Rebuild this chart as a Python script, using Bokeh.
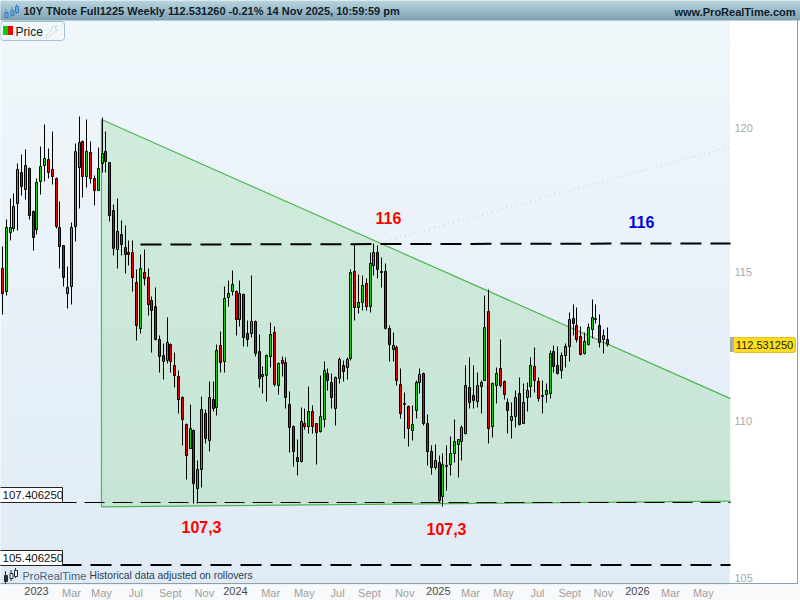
import numpy as np
from bokeh.plotting import figure
from bokeh.embed import file_html
from bokeh.resources import INLINE
from bokeh.models import (Range1d, BoxAnnotation, Label, PolyAnnotation, FixedTicker, LinearAxis)

# ---------- data (weekly candles) ----------
OPEN = [115.11,114.31,116.34,116.47,117.35,118.43,117.83,118.57,117.07,116.45,118.11,118.67,118.89,118.54,118.22,116.52,115.88,114.25,114.48,116.54,
        118.60,119.53,118.28,119.14,118.22,117.82,118.75,119.17,118.77,117.10,115.75,116.28,115.83,115.65,115.66,114.62,113.07,114.96,114.79,114.01,
        113.81,112.70,112.16,112.00,112.55,111.83,111.47,110.78,109.89,109.13,109.70,107.82,108.46,110.25,109.37,110.71,110.45,112.50,111.97,114.13,
        114.31,114.33,113.37,114.21,112.90,112.92,113.31,112.30,111.47,111.50,112.15,112.94,111.17,112.00,111.93,110.55,109.84,108.82,108.71,109.92,
        109.85,110.32,109.92,109.68,110.08,111.57,111.27,110.41,111.41,111.83,111.77,112.06,115.00,113.77,113.94,114.60,113.81,115.22,115.67,115.02,
        115.00,113.07,112.37,112.43,111.21,110.59,110.48,109.70,110.35,111.27,111.57,109.95,109.04,108.52,108.68,107.57,108.57,108.59,108.97,109.26,
        109.36,109.62,111.11,110.84,110.67,111.14,111.36,113.64,109.85,111.19,111.74,111.30,110.61,110.04,110.15,110.91,109.94,110.78,111.14,111.80,
        111.30,110.85,110.88,110.91,112.30,111.83,111.67,112.16,112.48,113.41,113.17,112.81,112.25,112.53,113.06,113.43,113.17,112.72,112.70]
HIGH = [115.86,116.79,117.54,117.69,118.75,119.07,119.24,118.60,117.10,118.22,119.36,120.14,119.29,119.89,118.25,117.42,115.91,115.19,116.70,119.46,
        120.42,119.57,120.32,119.52,118.34,119.33,120.38,119.89,118.80,117.32,117.54,116.77,116.57,116.08,116.08,115.06,115.60,115.77,115.10,114.16,
        114.45,112.85,112.57,113.45,112.57,112.27,111.67,110.82,109.95,110.56,109.73,108.73,110.82,110.39,111.32,111.32,112.55,112.98,114.50,114.70,
        115.04,114.36,114.70,114.25,113.35,114.87,113.35,112.88,111.80,112.21,113.27,113.13,111.93,112.14,112.12,110.99,109.87,109.43,110.47,110.41,
        111.15,110.53,109.95,111.52,111.96,111.76,111.57,111.48,112.12,112.01,112.12,115.06,115.94,114.90,114.87,114.76,115.66,115.97,115.89,115.49,
        115.27,113.18,112.96,112.51,111.74,110.94,110.53,110.53,111.35,111.74,111.60,110.22,109.22,109.25,108.89,108.95,109.22,109.51,110.08,109.43,
        109.87,111.85,112.12,111.85,111.62,111.35,114.19,114.39,111.27,111.79,112.70,111.35,110.74,110.62,111.02,111.46,111.24,111.29,112.10,112.44,
        111.46,111.35,111.24,112.34,112.51,112.48,112.29,112.57,113.62,113.89,113.77,113.13,112.96,113.24,114.04,113.89,113.54,113.05,113.11]
LOW = [113.56,114.19,116.06,116.37,116.40,117.63,117.50,116.81,115.74,116.26,117.66,118.12,118.24,118.02,116.47,115.12,114.50,113.74,113.88,116.03,
       117.16,117.57,117.92,118.06,117.29,117.79,118.42,118.42,116.71,115.54,115.10,115.54,114.93,115.20,114.31,112.69,112.92,114.53,113.52,112.29,
       112.67,111.62,111.38,111.90,111.62,111.13,110.27,109.22,108.13,109.11,107.34,107.37,107.87,109.29,109.03,110.34,110.21,111.62,111.62,113.83,
       114.19,112.85,113.13,112.46,112.48,112.79,112.14,111.13,110.91,110.67,111.79,111.15,110.89,111.48,110.44,109.00,108.54,108.26,108.68,109.74,
       109.60,109.62,108.60,109.65,109.81,111.02,110.43,109.87,111.26,111.32,111.38,112.01,113.33,113.57,113.68,113.68,113.63,114.87,114.76,114.45,
       113.04,111.96,111.98,111.18,110.11,109.46,109.20,109.38,110.11,110.91,109.87,108.57,108.28,108.43,107.40,107.26,107.77,108.25,108.68,108.20,
       108.73,109.57,110.41,110.44,110.47,110.25,111.33,109.29,109.47,110.58,111.13,110.71,109.62,109.46,109.81,109.87,109.92,110.32,110.80,110.96,
       110.67,110.27,110.61,110.74,111.62,111.55,111.42,111.79,111.96,112.85,112.62,112.16,112.22,112.51,112.74,113.26,112.43,112.25,112.46]
CLOSE = [114.25,116.52,116.52,117.24,118.54,117.96,118.68,116.92,116.18,118.08,118.64,118.92,118.45,118.28,116.54,115.87,114.79,114.46,116.52,119.18,
         119.49,118.28,119.17,118.22,117.82,118.57,119.10,118.81,116.92,115.79,116.38,115.92,115.58,115.60,114.79,113.19,115.10,114.76,113.87,113.67,
         112.72,112.15,111.97,112.60,111.96,111.52,110.71,110.08,108.88,109.76,108.00,108.46,110.38,109.46,110.78,110.41,112.33,111.93,114.08,114.25,
         114.55,113.37,114.25,112.79,112.70,113.31,112.23,111.41,111.54,112.16,112.87,111.21,111.90,111.92,110.80,109.81,109.03,108.71,109.99,109.85,
         110.32,109.85,109.63,110.15,111.67,111.34,110.80,111.45,112.03,111.66,112.04,114.96,113.77,113.94,114.52,113.83,115.27,115.67,115.09,114.98,
         113.08,112.53,112.50,111.34,110.27,110.55,109.78,109.89,111.27,111.54,109.94,109.04,108.52,108.72,107.46,108.62,108.53,108.95,109.34,109.40,
         109.79,111.17,110.63,110.70,111.17,111.27,113.11,109.78,111.24,111.57,111.19,110.87,110.37,110.15,110.78,109.91,110.61,111.01,111.83,111.36,
         110.74,110.81,111.01,112.23,111.82,111.59,112.16,112.47,113.37,113.24,112.71,112.22,112.63,113.11,113.44,113.39,112.62,112.84,112.53]

MONTH_LABELS = ["Mar", "May", "Jul", "Sept", "Nov", "Mar", "May", "Jul", "Sept", "Nov", "Mar", "May", "Jul", "Sept", "Nov", "Mar", "May"]
MONTH_WEEKS = [17.9, 25.7, 34.7, 43.7, 52.6, 69.9, 78.7, 87.4, 95.7, 104.9, 122.1, 130.7, 139.6, 148.0, 156.8, 174.3, 182.9]
YEAR_LABELS = ["2023", "2024", "2025", "2026"]
YEAR_WEEKS = [8.75, 60.7, 113.7, 165.7]
PRICE_TICKS = [105, 110, 115, 120]

TRIANGLE_WEEK = [190.0, 25.72, 25.72, 190.0]
TRIANGLE_PRICE = [110.75, 120.31, 107.25, 107.43]
RESIST_WEEK = [35.9, 190.0]
RESIST_PRICE = [115.93, 115.97]
TREND_WEEK = [44.5, 190.0]
TREND_PRICE = [114.06, 119.35]
SUPPORT1 = 107.406
SUPPORT2 = 105.406
LAST_PRICE = "112.531250"
TITLE = "10Y TNote Full1225 Weekly 112.531260 -0.21% 14 Nov 2025, 10:59:59 pm"

# ---------- scales ----------
PX = 3.829           # pixels per week
OFF = 2.5            # pixel of week 0
W, H = 800, 600
LO, HI = 104.31, 124.636
FONT = "Liberation Sans"
n = len(OPEN)
idx = np.arange(n)
slot = (np.floor(idx * PX + OFF) - OFF) / PX   # week index snapped to the pixel grid


def snap(v, shift=0.0):
    """Snap a price to the pixel grid of the log axis, so candle edges stay crisp."""
    span = np.log(HI) - np.log(LO)
    s = np.round(H * (np.log(HI) - np.log(np.asarray(v, dtype=float))) / span) + shift
    return HI * np.exp(-s / H * span)


p = figure(width=W, height=H, output_backend="svg", toolbar_location=None,
           x_range=Range1d(-OFF / PX, (W - OFF) / PX),
           y_range=Range1d(LO, HI), y_axis_type="log", y_axis_location="right",
           min_border_left=0, min_border_right=0, min_border_top=0, min_border_bottom=0,
           background_fill_color="white", border_fill_color="white", outline_line_color=None)
p.grid.visible = False


def Y(y):
    return H - y


def box(l, r, t, b, fill, line=None, lw=1, level="underlay", radius=0):
    d = 0.5 if line is None else 0.0
    a = BoxAnnotation(left=l - d, right=r - d, top=Y(t - d), bottom=Y(b - d), left_units="screen", right_units="screen",
                      top_units="screen", bottom_units="screen", fill_color=fill, fill_alpha=1,
                      line_color=line, line_width=lw, line_alpha=1, level=level, border_radius=radius,
                      hatch_alpha=0)
    p.add_layout(a)


def label(x, y, text, size, color, style="normal", align="left"):
    p.add_layout(Label(x=x, y=Y(y), x_units="screen", y_units="screen", text=text, text_font=FONT,
                       text_font_size=f"{size}px", text_color=color, text_font_style=style,
                       text_align=align, text_baseline="middle"))


def lerp(a, b, t):
    return tuple(int(round(a[i] + (b[i] - a[i]) * t)) for i in range(3))


def col(c):
    return "#%02x%02x%02x" % c


# ---------- backgrounds ----------
box(0, 800, 584, 600, "#f7f9fa")
steps = 28
for i in range(steps):
    t0, t1 = 20 + 564 * i / steps, 20 + 564 * (i + 1) / steps
    box(0, 730, t0, t1 + 0.5, col(lerp((240, 247, 251), (224, 235, 245), i / (steps - 1))))
for i in range(20):
    box(0, 800, i, i + 1.5, col(lerp((186, 213, 224), (128, 163, 180), i / 19)))
box(0, 797, 583, 584, "#8aa0ac")
box(797, 798, 20, 584, "#8aa0ac")

# ---------- chart marks ----------
x_end = (730 - OFF) / PX
x_start = -OFF / PX
p.patch(TRIANGLE_WEEK, TRIANGLE_PRICE, fill_color="#50c050", fill_alpha=0.18, line_color=None)
p.line(TRIANGLE_WEEK, TRIANGLE_PRICE, line_color="#4fb552", line_width=1.2)
p.line(TREND_WEEK, TREND_PRICE, line_color="#c8d4d0", line_width=1.3, line_dash="1 4")
s1 = float(snap(SUPPORT1, 1.0))
s2 = float(snap(SUPPORT2, -0.5))
p.line([x_start, x_end], [s1, s1], line_color="black", line_width=1.2, line_dash="20 8")
p.line([x_start, x_end], [s2, s2], line_color="black", line_width=2, line_dash="21 9")
p.line(RESIST_WEEK, RESIST_PRICE, line_color="black", line_width=2, line_dash="21 9")

o, c = np.array(OPEN), np.array(CLOSE)
up = c >= o
so, sc = snap(o), snap(c)
p.segment(slot, snap(HIGH), slot, snap(LOW), line_color="black", line_width=1)
p.vbar(slot[up], top=sc[up], bottom=so[up], width=2 / PX, fill_color="#00dc00", line_color="black", line_width=1)
p.vbar(slot[~up], top=so[~up], bottom=sc[~up], width=2 / PX, fill_color="#ee0000", line_color="black", line_width=1)

# ---------- axes ----------
xa = p.xaxis[0]
xa.fixed_location = 104.81
xa.ticker = FixedTicker(ticks=MONTH_WEEKS)
xa.major_label_overrides = {w: t for w, t in zip(MONTH_WEEKS, MONTH_LABELS)}
ya2 = LinearAxis(fixed_location=104.81, ticker=FixedTicker(ticks=YEAR_WEEKS),
                 major_label_overrides={w: t for w, t in zip(YEAR_WEEKS, YEAR_LABELS)})
p.add_layout(ya2, "below")
for ax, colr in ((xa, "#a0a0a0"), (ya2, "#4a4a4a")):
    ax.axis_line_color = None
    ax.major_tick_line_color = None
    ax.minor_tick_line_color = None
    ax.major_label_text_font = FONT
    ax.major_label_text_font_size = "11px"
    ax.major_label_text_color = colr
    ax.major_label_standoff = -3

ya = p.yaxis[0]
ya.fixed_location = x_end
ya.ticker = FixedTicker(ticks=PRICE_TICKS)
ya.major_label_overrides = {v: str(v) for v in PRICE_TICKS}
ya.axis_line_color = None
ya.major_tick_line_color = None
ya.minor_tick_line_color = None
ya.major_label_text_font = FONT
ya.major_label_text_font_size = "11px"
ya.major_label_text_color = "#a8a8a8"
ya.major_label_standoff = -2

# ---------- chart annotations ----------
label(388, 217, "116", 16, "#ff0000", "bold", "center")
label(641, 221, "116", 16, "#0000e0", "bold", "center")
label(201, 526, "107,3", 16, "#ff0000", "bold", "center")
label(446, 528, "107,3", 16, "#ff0000", "bold", "center")

box(-2, 62, 487, 502, "white", "#222222", 1, "annotation")
label(2, 494.5, "107.406250", 11.5, "#111111")
box(-2, 62, 550, 565, "white", "#222222", 1, "annotation")
label(2, 557.5, "105.406250", 11.5, "#111111")

box(730, 734, 337, 352, "#a8a8a8", None, 1, "annotation")
box(733, 795, 337, 352, "#ffdd1e", "#e0c020", 1, "annotation", 2)
label(764, 344.5, LAST_PRICE, 11, "#222222", "normal", "center")

# ---------- header and footer ----------
label(23, 10.5, TITLE, 11, "#10202a", "bold")
label(795, 11, "www.ProRealTime.com", 11, "#10202a", "bold", "right")

for cx, t, bt, bb, bot in ((6, 9, 12, 17, 19), (12, 7, 10, 15, 17), (16.5, 4, 6, 12, 14)):
    box(cx - 0.5, cx + 0.5, t, bot, "#4a90d0", level="annotation")
    box(cx - 1.5, cx + 1.5, bt, bb, "#6aa8dc", "#3a7cc0", 1, "annotation")

box(0, 64, 21, 40, "#f0f6f9", "#a4c0d0", 1, "annotation", 3)
box(3, 8, 26, 35, "#00d000", level="annotation")
box(8, 13, 26, 35, "#f00000", level="annotation")
label(15, 31, "Price", 12, "#202020")
wx = [46, 51.5, 51, 52.5, 56, 54.5, 56.5, 57, 54, 47.8, 46]
wy = [34.5, 29, 27, 25.5, 25.8, 28, 29, 29.5, 31.5, 37, 37]
p.add_layout(PolyAnnotation(xs=wx, ys=[Y(v) for v in wy], xs_units="screen", ys_units="screen",
                            fill_alpha=0, line_color="#7ea4ba", line_width=1, level="annotation"))

for cx, t, bt, bb, bot in ((5.5, 571, 575, 581, 584), (11, 570, 573, 578, 581), (15.5, 568, 570, 576, 578)):
    box(cx - 0.5, cx + 0.5, t, bot, "#20303c", level="annotation")
    box(cx - 1.5, cx + 1.5, bt, bb, "#20303c" if cx < 8 else "#e8f0f4", "#20303c", 1, "annotation")
label(22, 575.5, "ProRealTime", 11, "#46647c")
label(89, 575, "Historical data adjusted on rollovers", 10.3, "#2c4050")

open("out.html", "w").write(file_html(p, INLINE))
